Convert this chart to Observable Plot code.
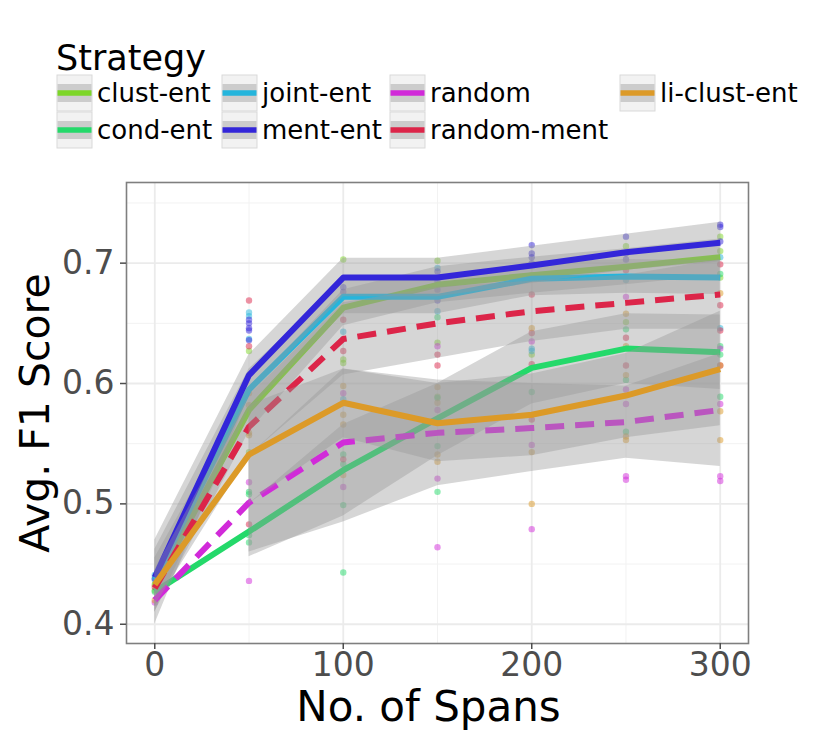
<!DOCTYPE html>
<html><head><meta charset="utf-8">
<script src="https://cdn.jsdelivr.net/npm/d3@7"></script>
<script src="https://cdn.jsdelivr.net/npm/@observablehq/plot@0.6"></script>
<style>
body{margin:0;background:#fff;font-family:"DejaVu Sans",sans-serif;}
#legend{width:831px;height:155px;display:block;}
#chart svg{display:block;}
</style></head><body>
<svg id="legend" width="831" height="155"></svg>
<div id="chart"></div>
<script>
// ---------- data ----------
const spans = [0, 50, 100, 150, 200, 250, 300];
const strategies = ["clust-ent","cond-ent","joint-ent","ment-ent","random","random-ment","li-clust-ent"];
const strategyColors = ["#7dd628","#24d96a","#25b5dc","#3326d9","#d12ad9","#dc2549","#dc9a28"];
const dashedStrategies = ["random","random-ment"];

// mean curves
const meanClustEnt   = [0.432, 0.578, 0.663, 0.682, 0.690, 0.697, 0.705];
const meanCondEnt    = [0.427, 0.477, 0.528, 0.571, 0.613, 0.629, 0.626];
const meanJointEnt   = [0.437, 0.595, 0.672, 0.672, 0.687, 0.689, 0.688];
const meanMentEnt    = [0.439, 0.607, 0.688, 0.688, 0.698, 0.709, 0.717];
const meanRandom     = [0.420, 0.501, 0.551, 0.559, 0.563, 0.568, 0.578];
const meanRandomMent = [0.430, 0.564, 0.637, 0.650, 0.660, 0.667, 0.674];
const meanLiClustEnt = [0.433, 0.541, 0.584, 0.567, 0.574, 0.590, 0.612];

// confidence bands (lower / upper)
const loClustEnt   = [0.410, 0.560, 0.648, 0.667, 0.675, 0.682, 0.690];
const hiClustEnt   = [0.455, 0.595, 0.678, 0.697, 0.705, 0.712, 0.720];
const loCondEnt    = [null, 0.456, 0.490, 0.540, 0.583, 0.600, 0.595];
const hiCondEnt    = [null, 0.500, 0.566, 0.600, 0.643, 0.658, 0.657];
const loJointEnt   = [0.410, 0.578, 0.658, 0.658, 0.673, 0.675, 0.674];
const hiJointEnt   = [0.462, 0.612, 0.686, 0.686, 0.701, 0.703, 0.702];
const loMentEnt    = [0.400, 0.590, 0.672, 0.672, 0.683, 0.694, 0.701];
const hiMentEnt    = [0.470, 0.624, 0.704, 0.704, 0.714, 0.724, 0.734];
const loRandom     = [null, 0.460, 0.485, 0.515, 0.527, 0.538, 0.531];
const hiRandom     = [null, 0.540, 0.612, 0.603, 0.600, 0.598, 0.625];
const loRandomMent = [0.415, 0.540, 0.607, 0.621, 0.635, 0.645, 0.645];
const hiRandomMent = [0.445, 0.590, 0.667, 0.680, 0.685, 0.690, 0.703];
const loLiClustEnt = [null, 0.500, 0.555, 0.535, 0.540, 0.555, 0.565];
const hiLiClustEnt = [null, 0.582, 0.612, 0.600, 0.608, 0.625, 0.660];

// individual runs [spans, F1]
const runsClustEnt = [[0,0.428],[0,0.433],[50,0.627],[50,0.543],[100,0.703],[100,0.620],[100,0.617],[150,0.702],[150,0.634],[150,0.589],[200,0.624],[200,0.690],[250,0.714],[250,0.651],[300,0.722],[300,0.710],[300,0.688]];
const runsCondEnt = [[0,0.427],[50,0.510],[50,0.508],[50,0.474],[50,0.468],[100,0.541],[100,0.533],[100,0.499],[100,0.443],[150,0.655],[150,0.588],[150,0.548],[150,0.510],[200,0.593],[250,0.645],[250,0.603],[250,0.560],[300,0.691],[300,0.631],[300,0.624],[300,0.589]];
const runsJointEnt = [[0,0.441],[0,0.437],[50,0.659],[50,0.656],[50,0.637],[100,0.643],[100,0.637],[100,0.587],[150,0.696],[150,0.660],[200,0.629],[200,0.627],[250,0.686],[300,0.705],[300,0.646]];
const runsMentEnt = [[0,0.438],[50,0.653],[50,0.650],[50,0.646],[50,0.644],[50,0.636],[100,0.680],[100,0.676],[150,0.693],[150,0.685],[150,0.678],[150,0.669],[200,0.715],[200,0.708],[200,0.705],[200,0.700],[250,0.722],[250,0.708],[250,0.703],[300,0.732],[300,0.730],[300,0.718]];
const runsRandom = [[0,0.418],[50,0.518],[50,0.436],[100,0.592],[100,0.514],[150,0.631],[150,0.578],[150,0.521],[150,0.464],[200,0.635],[200,0.549],[200,0.479],[250,0.672],[250,0.595],[250,0.583],[250,0.523],[250,0.520],[300,0.629],[300,0.583],[300,0.523],[300,0.519]];
const runsRandomMent = [[0,0.431],[50,0.669],[50,0.631],[50,0.483],[100,0.653],[100,0.627],[100,0.537],[150,0.624],[150,0.615],[200,0.674],[200,0.642],[200,0.616],[200,0.570],[250,0.694],[250,0.638],[250,0.615],[300,0.699],[300,0.665],[300,0.644],[300,0.615]];
const runsLiClustEnt = [[0,0.420],[50,0.592],[50,0.582],[50,0.559],[50,0.557],[100,0.598],[100,0.574],[100,0.566],[100,0.524],[150,0.597],[150,0.584],[150,0.541],[150,0.535],[200,0.646],[200,0.543],[200,0.500],[250,0.658],[250,0.631],[250,0.607],[250,0.556],[250,0.553],[300,0.675],[300,0.615],[300,0.577],[300,0.553]];

const xTicks = [0, 100, 200, 300];
const yTicks = [0.4, 0.5, 0.6, 0.7];
const xMinor = [50, 150, 250];
const yMinor = [0.45, 0.55, 0.65, 0.75];

// ---------- tables ----------
const means = [meanClustEnt, meanCondEnt, meanJointEnt, meanMentEnt, meanRandom, meanRandomMent, meanLiClustEnt];
const los = [loClustEnt, loCondEnt, loJointEnt, loMentEnt, loRandom, loRandomMent, loLiClustEnt];
const his = [hiClustEnt, hiCondEnt, hiJointEnt, hiMentEnt, hiRandom, hiRandomMent, hiLiClustEnt];
const runs = [runsClustEnt, runsCondEnt, runsJointEnt, runsMentEnt, runsRandom, runsRandomMent, runsLiClustEnt];

const curveRows = strategies.map((s, i) => spans.map((x, j) => ({strategy: s, x, y: means[i][j], lo: los[i][j], hi: his[i][j]})));
const runRows = strategies.flatMap((s, i) => runs[i].map(([x, v]) => ({strategy: s, x, y: v})));

const colorScale = {domain: strategies, range: strategyColors};

// ---------- legend ----------
const leg = d3.select("#legend");
leg.append("text").attr("x", 56).attr("y", 70).attr("font-size", 35).attr("fill", "#000").text("Strategy");
const legendOrder = ["clust-ent","cond-ent","joint-ent","ment-ent","random","random-ment","li-clust-ent"];
const colX = [57, 222, 390, 620];
const rowY = [75, 112];
legendOrder.forEach((s, k) => {
  const c = Math.floor(k / 2), r = k % 2;
  const x = colX[c], y = rowY[r];
  const g = leg.append("g").attr("transform", `translate(${x},${y})`);
  g.append("rect").attr("width", 35).attr("height", 36).attr("fill", "#f2f2f2").attr("stroke", "#d9d9d9").attr("stroke-width", 1);
  g.append("rect").attr("x", 0.5).attr("y", 9).attr("width", 34).attr("height", 18).attr("fill", "#cccccc");
  g.append("line").attr("x1", 0.5).attr("x2", 34.5).attr("y1", 18).attr("y2", 18)
    .attr("stroke", strategyColors[strategies.indexOf(s)]).attr("stroke-width", 5.5);
  leg.append("text").attr("x", x + 40).attr("y", y + 27).attr("font-size", 26).attr("fill", "#000").text(s);
});

// ---------- chart ----------
const marks = [
  Plot.gridX({ticks: xMinor, stroke: "#f2f2f2", strokeOpacity: 1, strokeWidth: 1}),
  Plot.gridY({ticks: yMinor, stroke: "#f2f2f2", strokeOpacity: 1, strokeWidth: 1}),
  Plot.gridX({ticks: xTicks, stroke: "#ebebeb", strokeOpacity: 1, strokeWidth: 1.8}),
  Plot.gridY({ticks: yTicks, stroke: "#ebebeb", strokeOpacity: 1, strokeWidth: 1.8}),
  Plot.dot(runRows, {x: "x", y: "y", fill: "strategy", r: 3.2, fillOpacity: 0.5, stroke: "none"})
];
strategies.forEach((s, i) => {
  marks.push(Plot.areaY(curveRows[i], {x: "x", y1: "lo", y2: "hi", fill: "#999999", fillOpacity: 0.4}));
  marks.push(Plot.line(curveRows[i], {x: "x", y: "y", stroke: "strategy", strokeWidth: 6,
    strokeDasharray: dashedStrategies.includes(s) ? "19,11" : null, strokeLinejoin: "round", strokeLinecap: "butt"}));
});
marks.push(
  Plot.frame({stroke: "#7f7f7f", strokeWidth: 1.6}),
  Plot.axisX({ticks: xTicks, tickSize: 6, tickPadding: 3, fontSize: 33, color: "#4d4d4d", strokeWidth: 1.5, label: null}),
  Plot.axisY({ticks: yTicks, tickSize: 6, tickPadding: 6, fontSize: 33, color: "#4d4d4d", strokeWidth: 1.5, label: null,
    tickFormat: d3.format(".1f")}),
  Plot.text(["No. of Spans"], {frameAnchor: "bottom", dy: 77, dx: -9, fontSize: 42, fill: "#000", textAnchor: "middle"}),
  Plot.text(["Avg. F1 Score"], {frameAnchor: "left", dx: -91, rotate: -90, fontSize: 41, fill: "#000", textAnchor: "middle"})
);

const chart = Plot.plot({
  width: 831,
  height: 595,
  marginTop: 27,
  marginBottom: 107,
  marginLeft: 126,
  marginRight: 83,
  style: {fontFamily: "DejaVu Sans", background: "#fff", overflow: "visible"},
  x: {domain: [-15, 315]},
  y: {domain: [0.384, 0.767]},
  color: colorScale,
  marks
});
document.getElementById("chart").appendChild(chart);
</script>
</body></html>
